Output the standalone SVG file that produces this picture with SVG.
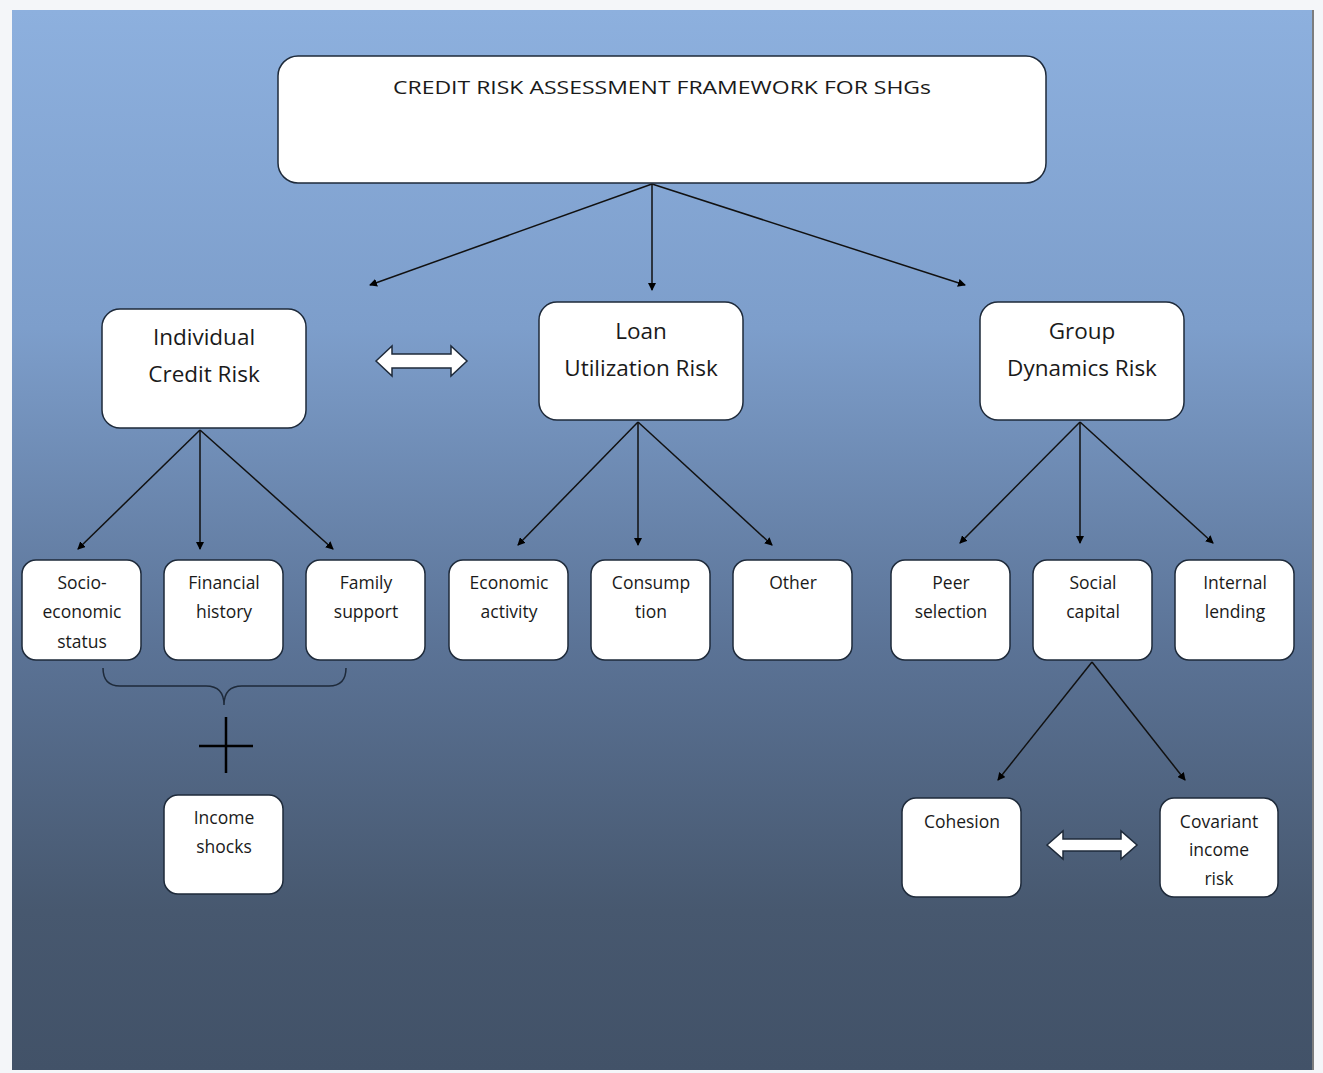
<svg xmlns="http://www.w3.org/2000/svg" width="1323" height="1073" viewBox="0 0 1323 1073">
<defs>
<linearGradient id="bg" x1="0" y1="0" x2="0" y2="1">
<stop offset="0" stop-color="#8db0de"/>
<stop offset="0.3" stop-color="#7d9ecb"/>
<stop offset="0.6" stop-color="#5b7396"/>
<stop offset="0.85" stop-color="#47586f"/>
<stop offset="1" stop-color="#425268"/>
</linearGradient>
<marker id="ah" markerWidth="8" markerHeight="8" refX="7" refY="4" orient="auto" markerUnits="userSpaceOnUse" viewBox="0 0 8 8">
<path d="M0,0 L8,4 L0,8 z" fill="#000"/>
</marker>
<style>
.box{fill:#fff;stroke:#1e2a3a;stroke-width:1.5}
.t{font-family:"Open Sans","Liberation Sans",sans-serif;fill:#1a1a1a;text-anchor:middle}
.big{font-size:22.5px}
.sm{font-size:17.5px}
.ttl{font-size:19px}
.con{stroke:#111;stroke-width:1.5;fill:none;marker-end:url(#ah)}
.dbl{fill:#fff;stroke:#1e2a3a;stroke-width:1.5}
</style>
</defs>
<rect x="0" y="0" width="1323" height="1073" fill="#f4f6f9"/>
<rect x="12" y="10" width="1300" height="1060" fill="url(#bg)"/>
<line x1="1313" y1="10" x2="1313" y2="1070" stroke="#555" stroke-width="1.5"/>

<g id="connectors">
<line class="con" x1="652" y1="184" x2="370" y2="285"/>
<line class="con" x1="652" y1="184" x2="652" y2="290"/>
<line class="con" x1="652" y1="184" x2="965" y2="285"/>
<line class="con" x1="200" y1="430" x2="78" y2="549"/>
<line class="con" x1="200" y1="430" x2="200" y2="549"/>
<line class="con" x1="200" y1="430" x2="333" y2="549"/>
<line class="con" x1="638" y1="422" x2="518" y2="545"/>
<line class="con" x1="638" y1="422" x2="638" y2="545"/>
<line class="con" x1="638" y1="422" x2="772" y2="545"/>
<line class="con" x1="1080" y1="422" x2="960" y2="543"/>
<line class="con" x1="1080" y1="422" x2="1080" y2="543"/>
<line class="con" x1="1080" y1="422" x2="1213" y2="543"/>
<line class="con" x1="1092" y1="662" x2="998" y2="780"/>
<line class="con" x1="1092" y1="662" x2="1185" y2="780"/>
<path class="dbl" d="M376,361 L392,346 L392,354 L451,354 L451,346 L467,361 L451,376 L451,368 L392,368 L392,376 Z"/>
<path class="dbl" d="M1047,845 L1063,831 L1063,839 L1121,839 L1121,831 L1137,845 L1121,859 L1121,851 L1063,851 L1063,859 Z"/>
<path d="M103,668 Q103,686 120,686 L206,686 Q224,686 224,705 Q224,686 242,686 L329,686 Q346,686 346,668" fill="none" stroke="#1e2a3a" stroke-width="1.5"/>
<line x1="199" y1="746" x2="253" y2="746" stroke="#000" stroke-width="2.5"/>
<line x1="226" y1="717" x2="226" y2="773" stroke="#000" stroke-width="2.5"/>
</g>

<g id="n-title"><rect class="box" x="278" y="56" width="768" height="127" rx="20"/>
<text class="t ttl" x="662" y="94" textLength="538" lengthAdjust="spacingAndGlyphs">CREDIT RISK ASSESSMENT FRAMEWORK FOR SHGs</text></g>

<g id="n-individual"><rect class="box" x="102" y="309" width="204" height="119" rx="18"/>
<text class="t big" x="204" y="345">Individual</text><text class="t big" x="204" y="382">Credit Risk</text></g>
<g id="n-loan"><rect class="box" x="539" y="302" width="204" height="118" rx="18"/>
<text class="t big" x="641" y="339">Loan</text><text class="t big" x="641" y="376">Utilization Risk</text></g>
<g id="n-group"><rect class="box" x="980" y="302" width="204" height="118" rx="18"/>
<text class="t big" x="1082" y="339">Group</text><text class="t big" x="1082" y="376">Dynamics Risk</text></g>

<g id="n-socio"><rect class="box" x="22" y="560" width="119" height="100" rx="14"/>
<text class="t sm" x="82" y="589">Socio-</text><text class="t sm" x="82" y="618">economic</text><text class="t sm" x="82" y="648">status</text></g>
<g id="n-financial"><rect class="box" x="164" y="560" width="119" height="100" rx="14"/>
<text class="t sm" x="224" y="589">Financial</text><text class="t sm" x="224" y="618">history</text></g>
<g id="n-family"><rect class="box" x="306" y="560" width="119" height="100" rx="14"/>
<text class="t sm" x="366" y="589">Family</text><text class="t sm" x="366" y="618">support</text></g>
<g id="n-economic"><rect class="box" x="449" y="560" width="119" height="100" rx="14"/>
<text class="t sm" x="509" y="589">Economic</text><text class="t sm" x="509" y="618">activity</text></g>
<g id="n-consump"><rect class="box" x="591" y="560" width="119" height="100" rx="14"/>
<text class="t sm" x="651" y="589">Consump</text><text class="t sm" x="651" y="618">tion</text></g>
<g id="n-other"><rect class="box" x="733" y="560" width="119" height="100" rx="14"/>
<text class="t sm" x="793" y="589">Other</text></g>
<g id="n-peer"><rect class="box" x="891" y="560" width="119" height="100" rx="14"/>
<text class="t sm" x="951" y="589">Peer</text><text class="t sm" x="951" y="618">selection</text></g>
<g id="n-social"><rect class="box" x="1033" y="560" width="119" height="100" rx="14"/>
<text class="t sm" x="1093" y="589">Social</text><text class="t sm" x="1093" y="618">capital</text></g>
<g id="n-internal"><rect class="box" x="1175" y="560" width="119" height="100" rx="14"/>
<text class="t sm" x="1235" y="589">Internal</text><text class="t sm" x="1235" y="618">lending</text></g>

<g id="n-income"><rect class="box" x="164" y="795" width="119" height="99" rx="14"/>
<text class="t sm" x="224" y="824">Income</text><text class="t sm" x="224" y="853">shocks</text></g>
<g id="n-cohesion"><rect class="box" x="902" y="798" width="119" height="99" rx="14"/>
<text class="t sm" x="962" y="828">Cohesion</text></g>
<g id="n-covariant"><rect class="box" x="1160" y="798" width="118" height="99" rx="14"/>
<text class="t sm" x="1219" y="828">Covariant</text><text class="t sm" x="1219" y="856">income</text><text class="t sm" x="1219" y="885">risk</text></g>
</svg>
